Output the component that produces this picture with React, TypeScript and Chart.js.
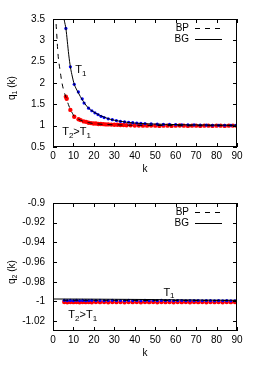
import React, { useEffect, useRef } from "react";
import { Chart, registerables } from "chart.js";
Chart.register(...registerables);

const FONT = '"Liberation Sans", Arial, Helvetica, sans-serif';

// shared axis ticks
const xTicks = [0, 10, 20, 30, 40, 50, 60, 70, 80, 90];
const yTicksTop = [0.5, 1, 1.5, 2, 2.5, 3, 3.5];
const yTicksBottom = [-1.02, -1, -0.98, -0.96, -0.94, -0.92, -0.9];

// ---- top panel: q1(k) ----
const kBGTop = [5.0, 5.6, 6.3, 7.0, 7.7, 8.5, 9.5, 10.4, 11.4, 12.4, 13.4, 14.3, 15.5, 17.4, 19, 21, 23, 25, 28, 32, 36, 40, 48, 56, 65, 75, 90];
const qBGTop = [3.62, 3.45, 3.28, 2.98, 2.66, 2.38, 2.14, 1.97, 1.86, 1.77, 1.68, 1.61, 1.52, 1.41, 1.35, 1.29, 1.24, 1.2, 1.15, 1.11, 1.08, 1.06, 1.04, 1.03, 1.02, 1.015, 1.01];

const kBPTop = [1.3, 1.6, 1.95, 2.3, 2.7, 3.2, 3.8, 4.4, 5.4, 6.4, 7.5, 8.5, 9.5, 10.4, 12.5, 15, 17.5, 20, 25, 30, 40, 50, 60, 70, 80, 90];
const qBPTop = [3.62, 3.32, 3.05, 2.77, 2.55, 2.38, 2.18, 2.0, 1.8, 1.66, 1.5, 1.38, 1.29, 1.22, 1.15, 1.1, 1.07, 1.05, 1.03, 1.02, 1.01, 1.005, 1.0, 1.0, 1.0, 1.0];

const kBlueTop = [6.3, 8.5, 10.4, 12.4, 14.3, 15.2, 17.4, 19, 20.5, 22, 23.5, 25, 27, 29, 31, 33, 35, 37, 39, 41, 43, 45, 48, 51, 54, 57, 60, 63, 66, 69, 72, 75, 78, 81, 84, 87, 89.5];
const qBlueTop = [3.28, 2.38, 1.97, 1.79, 1.63, 1.53, 1.41, 1.35, 1.3, 1.26, 1.22, 1.19, 1.16, 1.14, 1.12, 1.1, 1.09, 1.08, 1.07, 1.06, 1.055, 1.05, 1.04, 1.035, 1.03, 1.03, 1.025, 1.02, 1.02, 1.02, 1.015, 1.015, 1.01, 1.01, 1.01, 1.01, 1.01];

const kRedTop = [6.3, 6.7, 8.5, 10.4, 12.5, 13.5, 15, 16.2, 17.4, 18.6, 19.8, 21, 22.2, 23.4, 24.6, 25.8, 27, 28.5, 30, 31.5, 33, 34.5, 36, 38, 40, 42, 44, 46, 48, 50, 52, 54, 56, 58, 60, 62, 64, 66, 68, 70, 72, 74, 76, 78, 80, 82, 84, 86, 88, 90];
const qRedTop = [1.68, 1.63, 1.37, 1.21, 1.15, 1.13, 1.1, 1.09, 1.07, 1.06, 1.05, 1.05, 1.04, 1.04, 1.035, 1.03, 1.03, 1.025, 1.02, 1.02, 1.015, 1.015, 1.01, 1.01, 1.005, 1.005, 1.0, 1.0, 1.005, 1.0, 0.995, 1.0, 1.0, 0.995, 1.0, 1.005, 1.0, 0.995, 1.0, 1.0, 0.995, 1.0, 1.0, 0.995, 1.0, 1.0, 0.995, 1.0, 1.0, 0.995];

// ---- bottom panel: q2(k) ----
const kBGBottom = [0, 15, 30, 45, 60, 75, 90];
const qBGBottom = [-0.9975, -0.9976, -0.9978, -0.998, -0.9983, -0.9986, -0.9988];

const kBPBottom = [5, 20, 35, 50, 65, 80, 90];
const qBPBottom = [-0.9988, -0.9988, -0.9989, -0.999, -0.999, -0.9991, -0.9991];

const kBlueBottom = [5.5, 7, 8.5, 10, 11.5, 13, 14.5, 16, 17.5, 19, 21, 23, 25, 27, 29, 31, 33, 35, 37, 39, 41, 43, 45, 47, 49, 51, 53, 55, 57, 59, 61, 63, 65, 67, 69, 71, 73, 75, 77, 79, 81, 83, 85, 87, 89];
const qBlueBottom = [-0.9988, -0.9991, -0.9989, -0.9992, -0.9988, -0.9991, -0.9989, -0.9992, -0.999, -0.9988, -0.9991, -0.9989, -0.9992, -0.999, -0.9988, -0.9991, -0.999, -0.9992, -0.9989, -0.9991, -0.999, -0.9992, -0.9989, -0.9991, -0.999, -0.9992, -0.9989, -0.9991, -0.999, -0.9993, -0.9991, -0.999, -0.9993, -0.9991, -0.9992, -0.999, -0.9993, -0.9991, -0.9992, -0.9994, -0.9991, -0.9993, -0.9992, -0.9994, -0.9993];

const kRedBottom = [5.5, 7, 8.5, 10, 11.5, 13, 14.5, 16, 17.5, 19, 21, 23, 25, 27, 29, 31, 33, 35, 37, 39, 41, 43, 45, 47, 49, 51, 53, 55, 57, 59, 61, 63, 65, 67, 69, 71, 73, 75, 77, 79, 81, 83, 85, 87, 89];
const qRedBottom = [-1.0006, -1.0008, -1.0005, -1.0007, -1.0006, -1.0008, -1.0005, -1.0007, -1.0006, -1.0008, -1.0005, -1.0007, -1.0006, -1.0008, -1.0005, -1.0007, -1.0006, -1.0008, -1.0005, -1.0007, -1.0006, -1.0008, -1.0005, -1.0007, -1.0006, -1.0008, -1.0005, -1.0007, -1.0006, -1.0008, -1.0005, -1.0007, -1.0006, -1.0008, -1.0005, -1.0007, -1.0006, -1.0008, -1.0005, -1.0007, -1.0006, -1.0008, -1.0005, -1.0007, -1.0006];

const pts = (ks: number[], qs: number[]) => ks.map((k, i) => ({ x: k, y: qs[i] }));

type Part = [string, boolean];

function drawParts(ctx: CanvasRenderingContext2D, x: number, y: number, parts: Part[], size: number) {
  let cx = x;
  for (const [t, sub] of parts) {
    ctx.font = `${sub ? Math.round(size * 0.72) : size}px ${FONT}`;
    ctx.fillText(t, cx, sub ? y + size * 0.32 : y);
    cx += ctx.measureText(t).width;
  }
  return cx;
}
function partsWidth(ctx: CanvasRenderingContext2D, parts: Part[], size: number) {
  let w = 0;
  for (const [t, sub] of parts) {
    ctx.font = `${sub ? Math.round(size * 0.72) : size}px ${FONT}`;
    w += ctx.measureText(t).width;
  }
  return w;
}

type PanelCfg = {
  yTicks: number[];
  yMin: number;
  yMax: number;
  sub: string;
  bg: { x: number; y: number }[];
  bp: { x: number; y: number }[];
  blue: { x: number; y: number }[];
  red: { x: number; y: number }[];
  t1: [number, number];
  t2: [number, number];
};

function makeOverlay(cfg: PanelCfg) {
  return {
    id: "overlay",
    afterDraw(chart: any) {
      const { ctx, chartArea: a, scales } = chart;
      ctx.save();
      ctx.strokeStyle = "#000";
      ctx.lineWidth = 1;
      ctx.setLineDash([]);
      ctx.strokeRect(a.left + 0.5, a.top + 0.5, a.right - a.left - 1, a.bottom - a.top - 1);
      ctx.beginPath();
      for (const v of xTicks) {
        const px = Math.round(scales.x.getPixelForValue(v)) + 0.5;
        ctx.moveTo(px, a.bottom);
        ctx.lineTo(px, a.bottom - 4);
        ctx.moveTo(px, a.top);
        ctx.lineTo(px, a.top + 4);
      }
      for (const v of cfg.yTicks) {
        const py = Math.round(scales.y.getPixelForValue(v)) + 0.5;
        ctx.moveTo(a.left, py);
        ctx.lineTo(a.left + 4, py);
        ctx.moveTo(a.right, py);
        ctx.lineTo(a.right - 4, py);
      }
      ctx.stroke();

      ctx.fillStyle = "#000";
      ctx.textBaseline = "middle";
      // legend
      ctx.font = `10px ${FONT}`;
      ctx.textAlign = "right";
      ctx.fillText("BP", 189, 28);
      ctx.fillText("BG", 189, 39);
      ctx.beginPath();
      ctx.setLineDash([5, 5]);
      ctx.moveTo(195, 28.5);
      ctx.lineTo(222, 28.5);
      ctx.stroke();
      ctx.setLineDash([]);
      ctx.beginPath();
      ctx.moveTo(195, 39.5);
      ctx.lineTo(222, 39.5);
      ctx.stroke();

      // annotations
      ctx.textAlign = "left";
      drawParts(ctx, scales.x.getPixelForValue(cfg.t1[0]), scales.y.getPixelForValue(cfg.t1[1]), [["T", false], ["1", true]], 11);
      drawParts(
        ctx,
        scales.x.getPixelForValue(cfg.t2[0]),
        scales.y.getPixelForValue(cfg.t2[1]),
        [["T", false], ["2", true], [">", false], ["T", false], ["1", true]],
        11
      );

      // axis titles
      ctx.font = `10px ${FONT}`;
      ctx.textAlign = "center";
      ctx.fillText("k", (a.left + a.right) / 2, 169);

      const yParts: Part[] = [["q", false], [cfg.sub, true], [" (k)", false]];
      ctx.translate(12, 88);
      ctx.rotate(-Math.PI / 2);
      ctx.textAlign = "left";
      const w = partsWidth(ctx, yParts, 10);
      drawParts(ctx, -w / 2, 0, yParts, 10);
      ctx.restore();
    },
  };
}

function Panel({ cfg }: { cfg: PanelCfg }) {
  const ref = useRef<HTMLCanvasElement>(null);
  useEffect(() => {
    const tickFont = { family: FONT, size: 10 };
    const chart = new Chart(ref.current as HTMLCanvasElement, {
      type: "scatter",
      data: {
        datasets: [
          {
            label: "BG",
            data: cfg.bg,
            showLine: true,
            borderColor: "#000",
            borderWidth: 1,
            pointRadius: 0,
            cubicInterpolationMode: "monotone",
          } as any,
          {
            label: "BP",
            data: cfg.bp,
            showLine: true,
            borderColor: "#000",
            borderWidth: 1,
            borderDash: [5, 5],
            pointRadius: 0,
            cubicInterpolationMode: "monotone",
          } as any,
          {
            label: "T1",
            data: cfg.blue,
            showLine: false,
            backgroundColor: "#0000ff",
            borderWidth: 0,
            pointRadius: 1.6,
          },
          {
            label: "T2",
            data: cfg.red,
            showLine: false,
            backgroundColor: "#ff0000",
            borderWidth: 0,
            pointRadius: 2.2,
          },
        ],
      },
      options: {
        animation: false,
        responsive: false,
        events: [],
        layout: { padding: { left: 0, top: 19, right: 26, bottom: 0 } },
        plugins: { legend: { display: false }, tooltip: { enabled: false } },
        scales: {
          x: {
            type: "linear",
            min: 0,
            max: 90,
            afterBuildTicks: (s: any) => {
              s.ticks = xTicks.map((v) => ({ value: v }));
            },
            afterFit: (s: any) => {
              s.height = 37;
            },
            grid: { display: false, drawTicks: false },
            border: { display: false },
            ticks: {
              font: tickFont,
              color: "#000",
              padding: 3,
              maxRotation: 0,
              autoSkip: false,
              callback: (v: any) => String(v),
            },
          },
          y: {
            type: "linear",
            min: cfg.yMin,
            max: cfg.yMax,
            afterBuildTicks: (s: any) => {
              s.ticks = cfg.yTicks.map((v) => ({ value: v }));
            },
            afterFit: (s: any) => {
              s.width = 53;
            },
            grid: { display: false, drawTicks: false },
            border: { display: false },
            ticks: {
              font: tickFont,
              color: "#000",
              padding: 8,
              autoSkip: false,
              callback: (v: any) => String(v),
            },
          },
        },
      },
      plugins: [makeOverlay(cfg)],
    } as any);
    return () => chart.destroy();
  }, [cfg]);
  return <canvas ref={ref} width={263} height={184} style={{ display: "block", width: 263, height: 184 }} />;
}

const topCfg: PanelCfg = {
  yTicks: yTicksTop,
  yMin: 0.5,
  yMax: 3.5,
  sub: "1",
  bg: pts(kBGTop, qBGTop),
  bp: pts(kBPTop, qBPTop),
  blue: pts(kBlueTop, qBlueTop),
  red: pts(kRedTop, qRedTop),
  t1: [10.9, 2.3],
  t2: [4.5, 0.85],
};

const bottomCfg: PanelCfg = {
  yTicks: yTicksBottom,
  yMin: -1.03,
  yMax: -0.9,
  sub: "2",
  bg: pts(kBGBottom, qBGBottom),
  bp: pts(kBPBottom, qBPBottom),
  blue: pts(kBlueBottom, qBlueBottom),
  red: pts(kRedBottom, qRedBottom),
  t1: [54, -0.991],
  t2: [7.5, -1.0138],
};

export default function App() {
  return (
    <div style={{ position: "absolute", left: 0, top: 0, width: 263, height: 368, background: "#fff" }}>
      <Panel cfg={topCfg} />
      <Panel cfg={bottomCfg} />
    </div>
  );
}
